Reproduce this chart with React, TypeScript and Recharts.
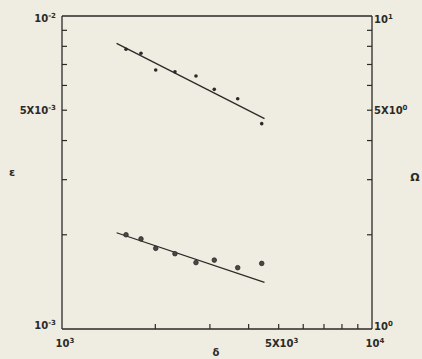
import React from 'react';
import { ComposedChart, XAxis, YAxis, Scatter, Line, ReferenceLine } from 'recharts';

// delta values (x) of measured points
const deltaPoints = [1609, 1798, 2006, 2314, 2705, 3099, 3688, 4408];
// epsilon (left axis) measured values
const epsilonValues = [0.00783, 0.0076, 0.00672, 0.00663, 0.00643, 0.00583, 0.00544, 0.00453];
// Omega (right axis) measured values
const omegaValues = [2.0, 1.94, 1.81, 1.74, 1.63, 1.66, 1.57, 1.62];
// fitted lines endpoints
const fitDelta = [1500, 4500];
const fitEpsilon = [0.00818, 0.0047];
const fitOmega = [2.03, 1.41];

const xTicks = [1000, 2000, 3000, 4000, 5000, 6000, 7000, 8000, 9000, 10000];
const leftTicks = [0.001, 0.002, 0.003, 0.004, 0.005, 0.006, 0.007, 0.008, 0.009, 0.01];
const rightTicks = [1, 2, 3, 4, 5, 6, 7, 8, 9, 10];

const xLabels: Record<number, [string, string]> = { 1000: ['10', '3'], 5000: ['5X10', '3'], 10000: ['10', '4'] };
const leftLabels: Record<number, [string, string]> = { 0.001: ['10', '-3'], 0.005: ['5X10', '-3'], 0.01: ['10', '-2'] };
const rightLabels: Record<number, [string, string]> = { 1: ['10', '0'], 5: ['5X10', '0'], 10: ['10', '1'] };

const epsData = deltaPoints.map((d, i) => ({ x: d, y: epsilonValues[i] }));
const omgData = deltaPoints.map((d, i) => ({ x: d, y: omegaValues[i] }));
const epsFit = fitDelta.map((d, i) => ({ x: d, y: fitEpsilon[i] }));
const omgFit = fitDelta.map((d, i) => ({ x: d, y: fitOmega[i] }));

const INK = '#2b2a28';
const FONT = 'DejaVu Sans, sans-serif';

const Label = ({ x, y, anchor, lab }: any) => (
  <text x={x} y={y} textAnchor={anchor} fill={INK} fontFamily={FONT} fontSize={10} fontWeight="bold">
    {lab[0]}
    <tspan dy={-4} fontSize={7}>{lab[1]}</tspan>
  </text>
);

const XTick = (props: any) => {
  const { x, y, payload } = props;
  const v = payload.value;
  const lab = xLabels[v];
  return (
    <g>
      {!lab || v === 5000 ? <line x1={x} y1={y} x2={x} y2={y - 5} stroke={INK} strokeWidth={1.2} /> : null}
      {lab ? <Label x={x + 3} y={y + 18} anchor="middle" lab={lab} /> : null}
    </g>
  );
};

const LeftTick = (props: any) => {
  const { x, y, payload } = props;
  const v = payload.value;
  const lab = leftLabels[v];
  const dy = v === 0.01 ? 6 : v === 0.001 ? 0 : 4;
  return (
    <g>
      {v !== 0.001 && v !== 0.01 ? <line x1={x} y1={y} x2={x + 5} y2={y} stroke={INK} strokeWidth={1.2} /> : null}
      {lab ? <Label x={x - 6} y={y + dy} anchor="end" lab={lab} /> : null}
    </g>
  );
};

const RightTick = (props: any) => {
  const { x, y, payload } = props;
  const v = payload.value;
  const lab = rightLabels[v];
  const dy = v === 10 ? 7 : v === 1 ? 1 : 4;
  return (
    <g>
      {v !== 1 && v !== 10 ? <line x1={x} y1={y} x2={x - 5} y2={y} stroke={INK} strokeWidth={1.2} /> : null}
      {lab ? <Label x={x + 2} y={y + dy} anchor="start" lab={lab} /> : null}
    </g>
  );
};

const SmallDot = (props: any) => {
  const { cx, cy } = props;
  return <circle cx={cx} cy={cy} r={1.8} fill={INK} />;
};
const BigDot = (props: any) => {
  const { cx, cy } = props;
  return <circle cx={cx} cy={cy} r={2.3} fill="#4a4844" stroke={INK} strokeWidth={0.8} />;
};

export default function App() {
  return (
    <div style={{ position: 'absolute', left: 0, top: 0, width: 422, height: 359, background: '#efece1' }}>
      <ComposedChart width={422} height={359} margin={{ top: 16, right: 0, bottom: 0, left: 0 }}>
        <XAxis
          xAxisId={0}
          dataKey="x"
          type="number"
          scale="log"
          domain={[1000, 10000]}
          ticks={xTicks}
          interval={0}
          allowDataOverflow
          height={30}
          tickSize={0}
          tickMargin={0}
          tickLine={false}
          axisLine={{ stroke: INK, strokeWidth: 1.3 }}
          tick={<XTick />}
        />
        <YAxis
          yAxisId="left"
          type="number"
          scale="log"
          domain={[0.001, 0.01]}
          ticks={leftTicks}
          interval={0}
          allowDataOverflow
          width={62}
          tickSize={0}
          tickMargin={0}
          tickLine={false}
          axisLine={{ stroke: INK, strokeWidth: 1.3 }}
          tick={<LeftTick />}
        />
        <YAxis
          yAxisId="right"
          orientation="right"
          type="number"
          scale="log"
          domain={[1, 10]}
          ticks={rightTicks}
          interval={0}
          allowDataOverflow
          width={50}
          tickSize={0}
          tickMargin={0}
          tickLine={false}
          axisLine={{ stroke: INK, strokeWidth: 1.3 }}
          tick={<RightTick />}
        />
        <ReferenceLine yAxisId="left" y={0.01} stroke={INK} strokeWidth={1.3} ifOverflow="extendDomain" />
        <Line data={epsFit} dataKey="y" yAxisId="left" stroke={INK} strokeWidth={1.3} dot={false} isAnimationActive={false} />
        <Line data={omgFit} dataKey="y" yAxisId="right" stroke={INK} strokeWidth={1.3} dot={false} isAnimationActive={false} />
        <Scatter data={epsData} dataKey="y" yAxisId="left" shape={<SmallDot />} isAnimationActive={false} />
        <Scatter data={omgData} dataKey="y" yAxisId="right" shape={<BigDot />} isAnimationActive={false} />
        <text x={12} y={176} textAnchor="middle" fill={INK} fontFamily={FONT} fontSize={11} fontWeight="bold">ε</text>
        <text x={415} y={181} textAnchor="middle" fill={INK} fontFamily={FONT} fontSize={11} fontWeight="bold">Ω</text>
        <text x={216} y={356} textAnchor="middle" fill={INK} fontFamily={FONT} fontSize={10} fontWeight="bold">δ</text>
      </ComposedChart>
    </div>
  );
}
